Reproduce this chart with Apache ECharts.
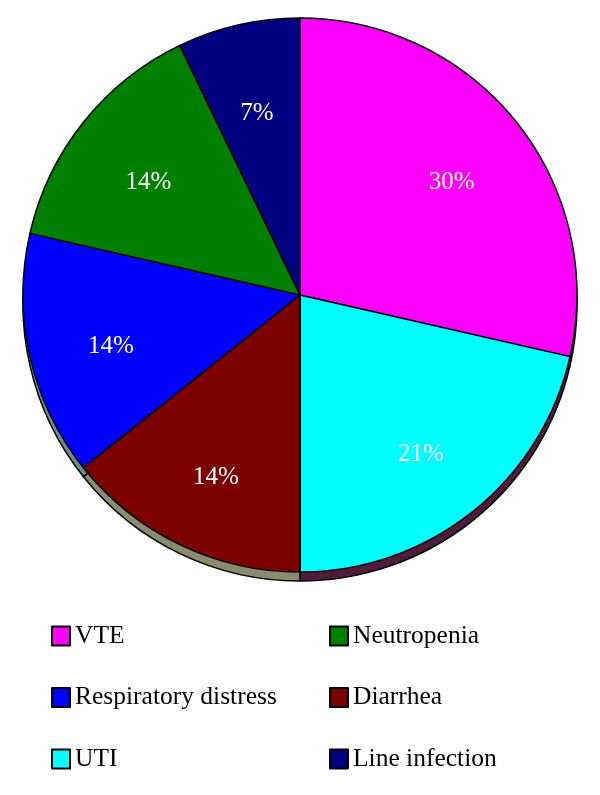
<!DOCTYPE html>
<html>
<head>
<meta charset="utf-8">
<script src="https://cdn.jsdelivr.net/npm/echarts@6/dist/echarts.min.js"></script>
<style>
	html, body { margin: 0; padding: 0; background: #fff; }
	#chart { width: 600px; height: 795px; }
</style>
</head>
<body>
<div id="chart"></div>
<script>
const myChart = echarts.init(document.getElementById('chart'), null, { renderer: 'canvas' })

// slices clockwise from 12 o'clock
const names = ['VTE', 'UTI', 'Diarrhea', 'Respiratory distress', 'Neutropenia', 'Line infection']
const counts = [4, 3, 2, 2, 2, 1]
const percentLabels = ['30%', '21%', '14%', '14%', '14%', '7%']
const colors = ['#ff00ff', '#00ffff', '#7d0000', '#0000ff', '#008000', '#000080']
const sideColors = ['#6a1f5e', '#4f1c3c', '#8b8b6f', '#6b8b8e', '#1f4f1f', '#101040']

const font = 'Liberation Serif'
const center = [300, 295]
const radius = 277

const mainData = names.map((n, i) => ({ name: n, value: counts[i], itemStyle: { color: colors[i] } }))
const sideData = names.map((n, i) => ({ name: n, value: counts[i], itemStyle: { color: sideColors[i] } }))
const labelData = names.map((n, i) => ({ name: n, value: counts[i] }))

const legendBase = {
	orient: 'vertical',
	icon: 'rect',
	itemWidth: 18,
	itemHeight: 19,
	itemGap: 35.5,
	top: 618,
	textStyle: { fontFamily: font, fontSize: 25.5, color: '#000' },
	selectedMode: false,
}

let option = {
	animation: false,
	legend: [
		Object.assign({}, legendBase, { left: 46, data: ['VTE', 'Respiratory distress', 'UTI'] }),
		Object.assign({}, legendBase, { left: 324, data: ['Neutropenia', 'Diarrhea', 'Line infection'] }),
	],
	series: [
		{
			name: 'main',
			type: 'pie',
			z: 3,
			center: center,
			radius: radius,
			startAngle: 90,
			clockwise: true,
			silent: true,
			label: { show: false },
			labelLine: { show: false },
			itemStyle: { borderColor: '#000', borderWidth: 1.5 },
			data: mainData,
		},
		{
			name: 'side',
			type: 'pie',
			z: 1,
			center: [center[0], center[1] + 9],
			radius: radius,
			startAngle: 90,
			clockwise: true,
			silent: true,
			label: { show: false },
			labelLine: { show: false },
			itemStyle: { borderColor: '#000', borderWidth: 1.5 },
			data: sideData,
		},
		{
			name: 'labels',
			type: 'pie',
			z: 4,
			center: [center[0], center[1] + 8],
			radius: [120, 262],
			startAngle: 90,
			clockwise: true,
			silent: true,
			itemStyle: { color: 'rgba(0,0,0,0)', borderWidth: 0 },
			label: {
				show: true,
				position: 'inside',
				color: '#fff',
				fontFamily: font,
				fontSize: 25,
				formatter: (p) => percentLabels[p.dataIndex],
			},
			labelLine: { show: false },
			data: labelData,
		},
	],
}
myChart.setOption(option)

window.addEventListener('resize', () => {
	myChart.resize()
})
</script>
</body>
</html>
